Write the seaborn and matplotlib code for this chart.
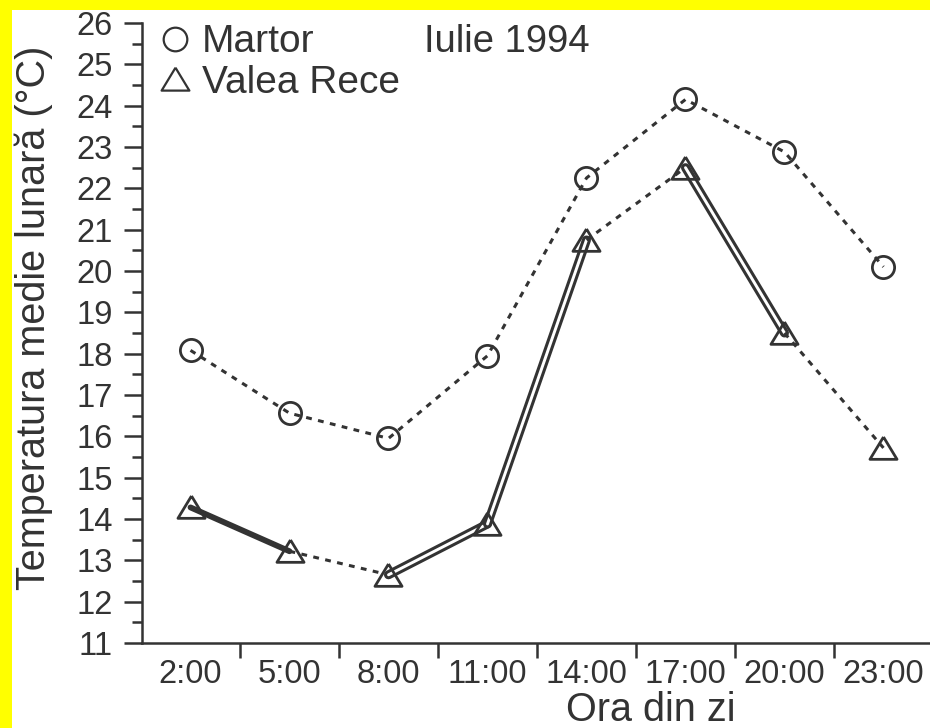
from pathlib import Path
import matplotlib
matplotlib.use("Agg")
import matplotlib.pyplot as plt
from matplotlib.patches import Rectangle
from matplotlib.lines import Line2D
from matplotlib.ticker import FixedLocator, MultipleLocator
import seaborn as sns

OUT_PATH = Path("out.png")

# values
hours = ["2:00", "5:00", "8:00", "11:00", "14:00", "17:00", "20:00", "23:00"]
martor = [18.08, 16.56, 15.95, 17.95, 22.25, 24.15, 22.88, 20.10]
valea_rece = [14.28, 13.22, 12.65, 13.88, 20.75, 22.50, 18.50, 15.72]
# line style for each Valea Rece segment (between consecutive hours)
valea_segments = ["thick", "dotted", "double", "double", "dotted", "double", "dotted"]

INK = "#333333"
YELLOW = "#ffff00"
DOTS = (0, (1.9, 2.1))
TRIANGLE = [(0, 0.85), (-1, -0.8), (1, -0.8), (0, 0.85)]


def main():
    sns.set_style("ticks")
    plt.rcParams["font.family"] = ["Liberation Sans", "DejaVu Sans"]

    fig = plt.figure(figsize=(9.3, 7.28), dpi=100, facecolor="white")
    # yellow margin on the left and top edges of the scan
    fig.add_artist(Rectangle((0, 0), 12 / 930, 1, transform=fig.transFigure,
                             facecolor=YELLOW, edgecolor="none", zorder=0))
    fig.add_artist(Rectangle((0, 718 / 728), 1, 10 / 728,
                             transform=fig.transFigure, facecolor=YELLOW,
                             edgecolor="none", zorder=0))

    ax = fig.add_axes([142 / 930, 85 / 728, 788 / 930, 620 / 728])
    ax.set_facecolor("none")

    x = list(range(len(hours)))

    # Martor: dotted all along
    sns.lineplot(x=x, y=martor, ax=ax, color=INK, lw=2.2, linestyle=DOTS,
                 sort=False, zorder=2)

    # Valea Rece: style changes from one segment to the next
    for i, style in enumerate(valea_segments):
        xs, ys = x[i:i + 2], valea_rece[i:i + 2]
        if style == "thick":
            sns.lineplot(x=xs, y=ys, ax=ax, color=INK, lw=4.2, zorder=2)
        elif style == "double":
            sns.lineplot(x=xs, y=ys, ax=ax, color=INK, lw=6.5, zorder=2)
            sns.lineplot(x=xs, y=ys, ax=ax, color="white", lw=2.1, zorder=2)
        else:
            sns.lineplot(x=xs, y=ys, ax=ax, color=INK, lw=2.2,
                         linestyle=DOTS, zorder=2)

    # open markers on top
    sns.lineplot(x=x, y=martor, ax=ax, color=INK, linestyle="", marker="o",
                 markersize=16, markerfacecolor="none",
                 markeredgecolor=INK, markeredgewidth=2.0, zorder=3)
    sns.lineplot(x=x, y=valea_rece, ax=ax, color=INK, linestyle="",
                 marker=TRIANGLE, markersize=19.5, markerfacecolor="none",
                 markeredgecolor=INK, markeredgewidth=2.0, zorder=3)

    ax.set_xlim(-0.49, 7.47)
    ax.set_ylim(11, 26)

    ax.set_xticks(x)
    ax.set_xticklabels(hours)
    ax.xaxis.set_minor_locator(FixedLocator([i + 0.5 for i in x[:-1]]))
    ax.tick_params(axis="x", which="major", length=0, pad=11.5,
                   labelsize=23.5, labelcolor=INK)
    ax.tick_params(axis="x", which="minor", length=11, width=1.8,
                   color=INK, direction="out")

    ax.yaxis.set_major_locator(MultipleLocator(1))
    ax.yaxis.set_minor_locator(MultipleLocator(0.5))
    ax.tick_params(axis="y", which="major", length=13, width=1.8, pad=8,
                   color=INK, labelsize=23.5, labelcolor=INK)
    ax.tick_params(axis="y", which="minor", length=7.5, width=1.8, color=INK)

    sns.despine(ax=ax)
    for side in ("left", "bottom"):
        ax.spines[side].set_linewidth(1.8)
        ax.spines[side].set_color(INK)
        ax.spines[side].set_clip_on(False)

    ax.set_xlabel("Ora din zi", fontsize=28.5, color=INK, va="baseline")
    ax.xaxis.set_label_coords(0.645, -0.126)
    ax.set_ylabel("Temperatura medie lunară (°C)", fontsize=28.5, color=INK,
                  va="center")
    ax.yaxis.set_label_coords(-0.137, 0.524)

    ax.text(0.463, 0.953, "Iulie 1994", transform=ax.transAxes, fontsize=27.5,
            color=INK, ha="center", va="baseline")

    handles = [
        Line2D([], [], linestyle="", marker="o", markersize=17,
               markerfacecolor="none", markeredgecolor=INK,
               markeredgewidth=1.6),
        Line2D([], [], linestyle="", marker=TRIANGLE, markersize=20,
               markerfacecolor="none", markeredgecolor=INK,
               markeredgewidth=1.6),
    ]
    leg = ax.legend(handles, ["Martor", "Valea Rece"], loc="upper left",
                    bbox_to_anchor=(0.022, 0.998), frameon=False, fontsize=28,
                    handlelength=0.8, handletextpad=0.3, labelspacing=0.12,
                    borderpad=0, borderaxespad=0)
    for t in leg.get_texts():
        t.set_color(INK)

    fig.savefig(OUT_PATH, dpi=100, facecolor="white")
    plt.close(fig)


if __name__ == "__main__":
    main()
